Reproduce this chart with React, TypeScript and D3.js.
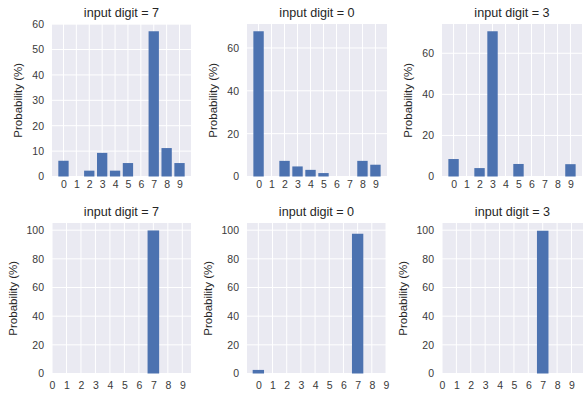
import React, { useEffect, useRef } from "react";
import * as d3 from "d3";

const digits = [0, 1, 2, 3, 4, 5, 6, 7, 8, 9];

// top row: softmax output before training (%)
const probsTop7 = [6.2, 0, 2.3, 9.3, 2.3, 5.3, 0, 57.2, 11.2, 5.3];
const probsTop0 = [67.8, 0, 7.3, 4.7, 3.1, 1.6, 0, 0, 7.3, 5.5];
const probsTop3 = [8.5, 0, 4.1, 70.7, 0, 6.1, 0, 0, 0, 6.0];

// bottom row
const probsBottom7 = [0, 0, 0, 0, 0, 0, 0, 99.8, 0, 0];
const probsBottom0 = [2.5, 0, 0, 0, 0, 0, 0, 97.5, 0, 0];
const probsBottom3 = [0, 0, 0, 0, 0, 0, 0, 99.6, 0, 0];

const titles = ["input digit = 7", "input digit = 0", "input digit = 3"];
const yTicksTop7 = [0, 10, 20, 30, 40, 50, 60];
const yTicksTop = [0, 20, 40, 60];
const yTicksBottom = [0, 20, 40, 60, 80, 100];
const yLabel = "Probability (%)";

const WIDTH = 585;
const HEIGHT = 394;
const BAR_W = 0.8;
const FONT = "'Liberation Sans', Arial, Helvetica, sans-serif";

const panels = [
  { title: titles[0], values: probsTop7, ticks: yTicksTop7, yMax: 57.2 * 1.05, xDomain: [-0.89, 9.89], box: [52, 191, 24, 176.5], pad: 4.5 },
  { title: titles[1], values: probsTop0, ticks: yTicksTop, yMax: 67.8 * 1.05, xDomain: [-0.89, 9.89], box: [247, 387, 24, 176.5], pad: 4.5 },
  { title: titles[2], values: probsTop3, ticks: yTicksTop, yMax: 70.7 * 1.05, xDomain: [-0.89, 9.89], box: [442, 582, 24, 176.5], pad: 4.5 },
  { title: titles[0], values: probsBottom7, ticks: yTicksBottom, yMax: 105, xDomain: [0, 9.6], box: [52, 191, 223, 373.5], pad: 8 },
  { title: titles[1], values: probsBottom0, ticks: yTicksBottom, yMax: 105, xDomain: [-0.8, 9.0], box: [247, 386, 223, 373.5], pad: 8 },
  { title: titles[2], values: probsBottom3, ticks: yTicksBottom, yMax: 105, xDomain: [0, 9.8], box: [442, 583, 223, 373.5], pad: 8 },
];

const App = () => {
  const ref = useRef<SVGSVGElement>(null);

  useEffect(() => {
    document.body.style.margin = "0";
    const svg = d3.select(ref.current);
    svg.selectAll("*").remove();
    svg.append("rect").attr("width", WIDTH).attr("height", HEIGHT).attr("fill", "#fff");

    panels.forEach((p) => {
      const [left, right, top, bottom] = p.box;
      const x = d3.scaleLinear().domain(p.xDomain).range([left, right]);
      const y = d3.scaleLinear().domain([0, p.yMax]).range([bottom, top]);
      const g = svg.append("g");

      g.append("rect")
        .attr("x", left)
        .attr("y", top)
        .attr("width", right - left)
        .attr("height", bottom - top)
        .attr("fill", "#EAEAF2");

      // grid
      g.append("g")
        .selectAll("line")
        .data(digits)
        .join("line")
        .attr("x1", (d) => x(d))
        .attr("x2", (d) => x(d))
        .attr("y1", top)
        .attr("y2", bottom)
        .attr("stroke", "#fff")
        .attr("stroke-width", 1);
      g.append("g")
        .selectAll("line")
        .data(p.ticks)
        .join("line")
        .attr("x1", left)
        .attr("x2", right)
        .attr("y1", (d) => y(d))
        .attr("y2", (d) => y(d))
        .attr("stroke", "#fff")
        .attr("stroke-width", 1);

      // bars
      g.append("g")
        .selectAll("rect")
        .data(digits)
        .join("rect")
        .attr("x", (d) => x(d - BAR_W / 2))
        .attr("y", (d) => y(p.values[d]))
        .attr("width", (d) => x(d + BAR_W / 2) - x(d - BAR_W / 2))
        .attr("height", (d) => y(0) - y(p.values[d]))
        .attr("fill", "#4C72B0");

      // axes
      const xAxis = d3.axisBottom(x).tickValues(digits).tickSize(0).tickPadding(p.pad);
      const yAxis = d3.axisLeft(y).tickValues(p.ticks).tickSize(0).tickPadding(8);

      g.append("g")
        .attr("transform", `translate(0,${bottom})`)
        .call(xAxis)
        .call((a) => a.select(".domain").remove())
        .call((a) =>
          a.selectAll("text").attr("font-family", FONT).attr("font-size", 10.5).attr("fill", "#3a3a3a")
        );

      g.append("g")
        .attr("transform", `translate(${left},0)`)
        .call(yAxis)
        .call((a) => a.select(".domain").remove())
        .call((a) =>
          a.selectAll("text").attr("font-family", FONT).attr("font-size", 10.5).attr("fill", "#3a3a3a")
        );

      // title
      g.append("text")
        .attr("x", (left + right) / 2)
        .attr("y", top - 7)
        .attr("text-anchor", "middle")
        .attr("font-family", FONT)
        .attr("font-size", 12.6)
        .attr("fill", "#262626")
        .text(p.title);

      // y label
      const labelX = left - (p.yMax > 100 ? 35 : 30);
      g.append("text")
        .attr("transform", `translate(${labelX},${(top + bottom) / 2}) rotate(-90)`)
        .attr("text-anchor", "middle")
        .attr("font-family", FONT)
        .attr("font-size", 11.5)
        .attr("fill", "#262626")
        .text(yLabel);
    });
  }, []);

  return <svg ref={ref} width={WIDTH} height={HEIGHT} style={{ display: "block" }} />;
};

export default App;
